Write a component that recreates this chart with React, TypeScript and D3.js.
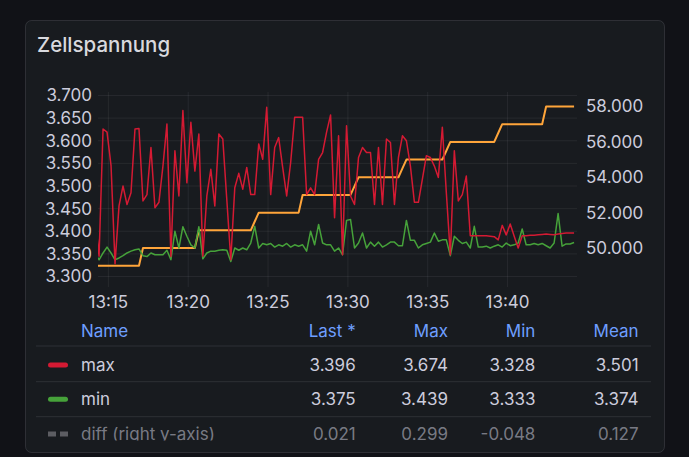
import React, { useEffect, useRef } from 'react';
import * as d3 from 'd3';

// samples every 15 s, first one lies just left of the visible window
const startTime = new Date(2024, 0, 1, 13, 14, 10);
const stepSeconds = 15;

const maxCell = [
  3.430, 3.345, 3.626, 3.619, 3.545, 3.328, 3.456, 3.500, 3.459, 3.485,
  3.626, 3.627, 3.467, 3.481, 3.585, 3.452, 3.464, 3.544, 3.637, 3.344,
  3.578, 3.478, 3.667, 3.507, 3.641, 3.533, 3.615, 3.345, 3.478, 3.537,
  3.456, 3.615, 3.604, 3.470, 3.337, 3.496, 3.528, 3.493, 3.541, 3.481,
  3.481, 3.593, 3.559, 3.674, 3.481, 3.585, 3.607, 3.541, 3.478, 3.552,
  3.652, 3.652, 3.652, 3.481, 3.496, 3.481, 3.559, 3.574, 3.619, 3.657,
  3.430, 3.611, 3.348, 3.633, 3.478, 3.459, 3.563, 3.585, 3.574, 3.574,
  3.459, 3.585, 3.459, 3.604, 3.596, 3.459, 3.563, 3.611, 3.600, 3.544,
  3.464, 3.464, 3.515, 3.567, 3.563, 3.544, 3.519, 3.630, 3.485, 3.348,
  3.578, 3.467, 3.481, 3.522, 3.390, 3.390, 3.390, 3.390, 3.390, 3.389,
  3.388, 3.381, 3.413, 3.392, 3.416, 3.389, 3.363, 3.390, 3.390, 3.391,
  3.391, 3.392, 3.393, 3.394, 3.393, 3.392, 3.394, 3.395, 3.396, 3.396,
  3.396,
];

const minCell = [
  3.350, 3.337, 3.352, 3.365, 3.352, 3.337, 3.341, 3.346, 3.352, 3.356,
  3.359, 3.361, 3.346, 3.344, 3.352, 3.348, 3.348, 3.348, 3.358, 3.337,
  3.400, 3.363, 3.410, 3.389, 3.370, 3.363, 3.410, 3.339, 3.352, 3.356,
  3.356, 3.358, 3.359, 3.358, 3.333, 3.363, 3.358, 3.363, 3.359, 3.374,
  3.411, 3.363, 3.373, 3.370, 3.373, 3.365, 3.370, 3.367, 3.373, 3.365,
  3.370, 3.367, 3.370, 3.356, 3.400, 3.370, 3.415, 3.374, 3.370, 3.370,
  3.356, 3.363, 3.348, 3.424, 3.426, 3.363, 3.374, 3.396, 3.363, 3.376,
  3.367, 3.376, 3.365, 3.370, 3.376, 3.376, 3.368, 3.368, 3.424, 3.380,
  3.380, 3.363, 3.370, 3.373, 3.376, 3.396, 3.378, 3.381, 3.381, 3.346,
  3.389, 3.380, 3.373, 3.376, 3.363, 3.411, 3.365, 3.365, 3.367, 3.363,
  3.367, 3.370, 3.365, 3.374, 3.368, 3.370, 3.374, 3.405, 3.370, 3.370,
  3.373, 3.370, 3.373, 3.368, 3.363, 3.374, 3.439, 3.367, 3.372, 3.372,
  3.375,
];

// orange step series on the right axis
const packVoltage = [
  49, 49, 49, 49, 49, 49, 49, 49, 49, 49,
  49, 49, 50, 50, 50, 50, 50, 50, 50, 50,
  50, 50, 50, 50, 50, 50, 51, 51, 51, 51,
  51, 51, 51, 51, 51, 51, 51, 51, 51, 51,
  51.5, 52, 52, 52, 52, 52, 52, 52, 52, 52,
  52, 52, 53, 53, 53, 53, 53, 53, 53, 53,
  53, 53, 53, 53, 53, 53.5, 54, 54, 54, 54,
  54, 54, 54, 54, 54, 54, 54, 54.5, 55, 55,
  55, 55, 55, 55, 55, 55, 55, 55, 55.5, 56,
  56, 56, 56, 56, 56, 56, 56, 56, 56, 56,
  56, 56.5, 57, 57, 57, 57, 57, 57, 57, 57,
  57, 57, 57, 58, 58, 58, 58, 58, 58, 58,
  58,
];

const leftTicks = [3.3, 3.35, 3.4, 3.45, 3.5, 3.55, 3.6, 3.65, 3.7];
const rightTicks = [50, 52, 54, 56, 58];

const legendHeader = ['Last *', 'Max', 'Min', 'Mean'];
const legendNames = ['max', 'min', 'diff (right y-axis)'];
const legendLast = [3.396, 3.375, 0.021];
const legendMax = [3.674, 3.439, 0.299];
const legendMin = [3.328, 3.333, -0.048];
const legendMean = [3.501, 3.374, 0.127];

const RED = '#d41a33';
const GREEN = '#46a23a';
const ORANGE = '#ffa53a';
const TEXT = '#ccccdc';
const FONT = 'Inter, "Noto Sans", sans-serif';

function App() {
  const ref = useRef<SVGSVGElement | null>(null);

  useEffect(() => {
    const svg = d3.select(ref.current);
    svg.selectAll('*').remove();

    const w = 689, h = 457;
    const plot = { left: 98, right: 577, top: 92, bottom: 287 };

    svg.attr('width', w).attr('height', h).style('display', 'block');

    svg.append('rect').attr('width', w).attr('height', h).attr('fill', '#111217');
    svg.append('rect')
      .attr('x', 25.5).attr('y', 20.5)
      .attr('width', 639).attr('height', 432)
      .attr('rx', 6)
      .attr('fill', '#181b1f')
      .attr('stroke', 'rgba(204,204,220,0.14)');

    svg.append('text')
      .attr('x', 37).attr('y', 52)
      .attr('fill', '#d8d9de')
      .style('font', `500 20.5px ${FONT}`)
      .text('Zellspannung');

    const times = maxCell.map((_, i) => new Date(startTime.getTime() + i * stepSeconds * 1000));

    const x = d3.scaleTime()
      .domain([new Date(2024, 0, 1, 13, 14, 21), new Date(2024, 0, 1, 13, 44, 21)])
      .range([plot.left, plot.right]);
    const yLeft = d3.scaleLinear().domain([3.3, 3.7]).range([276.5, 95.5]);
    const yRight = d3.scaleLinear().domain([49, 58]).range([265.7, 106.5]);

    const grid = svg.append('g').attr('stroke', 'rgba(204,204,220,0.08)');
    const xTicks = x.ticks(d3.timeMinute.every(5) as d3.TimeInterval);
    grid.selectAll('line.v').data(xTicks).enter().append('line')
      .attr('x1', (d) => x(d)).attr('x2', (d) => x(d))
      .attr('y1', plot.top).attr('y2', plot.bottom);
    grid.selectAll('line.h').data(leftTicks).enter().append('line')
      .attr('x1', plot.left).attr('x2', plot.right)
      .attr('y1', (d) => yLeft(d)).attr('y2', (d) => yLeft(d));

    const axisText = svg.append('g').attr('fill', TEXT).style('font', `17px ${FONT}`);
    axisText.selectAll('text.l').data(leftTicks).enter().append('text')
      .attr('x', 92).attr('y', (d) => yLeft(d)).attr('dy', '0.35em')
      .attr('text-anchor', 'end')
      .text((d) => d3.format('.3f')(d));
    axisText.selectAll('text.r').data(rightTicks).enter().append('text')
      .attr('x', 586).attr('y', (d) => yRight(d)).attr('dy', '0.35em')
      .text((d) => d3.format('.3f')(d));
    axisText.selectAll('text.x').data(xTicks).enter().append('text')
      .attr('x', (d) => x(d)).attr('y', 308)
      .attr('text-anchor', 'middle')
      .text((d) => d3.timeFormat('%H:%M')(d));

    svg.append('clipPath').attr('id', 'plot-clip')
      .append('rect')
      .attr('x', plot.left).attr('y', plot.top)
      .attr('width', plot.right - plot.left).attr('height', plot.bottom - plot.top);

    const lines = svg.append('g').attr('clip-path', 'url(#plot-clip)').attr('fill', 'none')
      .attr('stroke-linejoin', 'round');

    const leftLine = d3.line<number>()
      .x((_, i) => x(times[i]))
      .y((d) => yLeft(d));
    const rightLine = d3.line<number>()
      .x((_, i) => x(times[i]))
      .y((d) => yRight(d));

    lines.append('path').attr('d', rightLine(packVoltage)).attr('stroke', ORANGE).attr('stroke-width', 2);
    lines.append('path').attr('d', leftLine(minCell)).attr('stroke', GREEN).attr('stroke-width', 1.5);
    lines.append('path').attr('d', leftLine(maxCell)).attr('stroke', RED).attr('stroke-width', 1.5);

    // legend table, scrolled so the last row is cut off
    const colRight = [355.7, 448, 535.4, 638.6];
    const rowY = [365, 399.3, 434];
    const sepY = [346, 381.7, 416.7];

    svg.append('clipPath').attr('id', 'legend-clip')
      .append('rect').attr('x', 26).attr('y', 312).attr('width', 638).attr('height', 128.5);
    const legend = svg.append('g').attr('clip-path', 'url(#legend-clip)').style('font', `17px ${FONT}`);

    legend.selectAll('line.sep').data(sepY).enter().append('line')
      .attr('x1', 36).attr('x2', 651)
      .attr('y1', (d) => d).attr('y2', (d) => d)
      .attr('stroke', 'rgba(204,204,220,0.12)');

    const header = legend.append('g').attr('fill', '#6e9fff');
    header.append('text').attr('x', 81).attr('y', 330.7).attr('dy', '0.35em').text('Name');
    header.selectAll('text.c').data(legendHeader).enter().append('text')
      .attr('x', (_, i) => colRight[i]).attr('y', 330.7).attr('dy', '0.35em')
      .attr('text-anchor', 'end')
      .text((d) => d);

    const colours = [RED, GREEN, null];
    const fmt = (v: number) => v.toFixed(3);
    legendNames.forEach((name, r) => {
      const fill = r === 2 ? 'rgba(204,204,220,0.55)' : TEXT;
      const g = legend.append('g').attr('fill', fill);
      const c = colours[r];
      if (c) {
        g.append('rect').attr('x', 48).attr('y', rowY[r] - 2.5)
          .attr('width', 20).attr('height', 5).attr('rx', 2.5).attr('fill', c);
      } else {
        g.append('rect').attr('x', 48).attr('y', rowY[r] - 2.5).attr('width', 8).attr('height', 5).attr('fill', '#5c5d62');
        g.append('rect').attr('x', 60).attr('y', rowY[r] - 2.5).attr('width', 8).attr('height', 5).attr('fill', '#5c5d62');
      }
      g.append('text').attr('x', 81).attr('y', rowY[r]).attr('dy', '0.35em').text(name);
      const vals = [legendLast[r], legendMax[r], legendMin[r], legendMean[r]];
      g.selectAll('text.v').data(vals).enter().append('text')
        .attr('x', (_, i) => colRight[i]).attr('y', rowY[r]).attr('dy', '0.35em')
        .attr('text-anchor', 'end')
        .text((d) => fmt(d));
    });
  }, []);

  return (
    <div style={{ position: 'absolute', left: 0, top: 0 }}>
      <svg ref={ref}></svg>
    </div>
  );
}

export default App;
